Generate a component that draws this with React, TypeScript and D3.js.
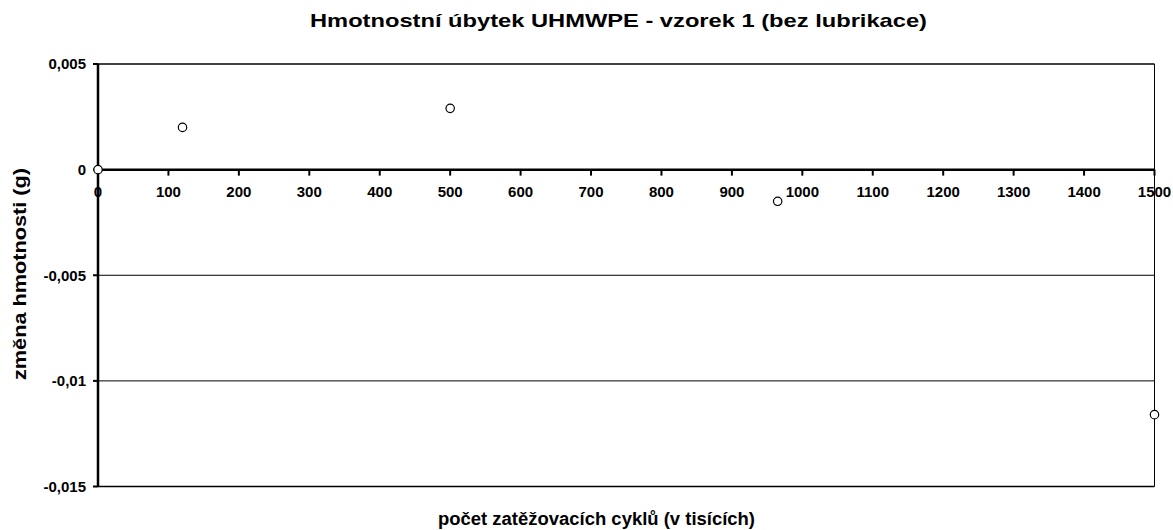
import React, { useEffect, useRef } from 'react';
import * as d3 from 'd3';

const cycles = [0, 120, 500, 965, 1500];
const massChange = [0, 0.002, 0.0029, -0.0015, -0.0116];
const xTicks = [0, 100, 200, 300, 400, 500, 600, 700, 800, 900, 1000, 1100, 1200, 1300, 1400, 1500];
const yTicks = [0.005, 0, -0.005, -0.01, -0.015];
const yTickLabels = ['0,005', '0', '-0,005', '-0,01', '-0,015'];

const W = 1173;
const H = 530;
const FONT = 'Arial, "Liberation Sans", sans-serif';

const App: React.FC = () => {
  const svgRef = useRef<SVGSVGElement>(null);

  useEffect(() => {
    if (!svgRef.current) return;
    const svg = d3.select(svgRef.current);
    svg.selectAll('*').remove();

    const left = 98, right = 1154.5, top = 64, bottom = 486.5;

    const x = d3.scaleLinear().domain([0, 1500]).range([left, right]);
    const y = d3.scaleLinear().domain([-0.015, 0.005]).range([bottom, top]);

    svg.append('rect').attr('width', W).attr('height', H).attr('fill', '#fff');

    // gridlines
    svg.selectAll('.grid')
      .data(yTicks.filter(v => v !== 0))
      .enter()
      .append('line')
      .attr('x1', left).attr('x2', right)
      .attr('y1', d => y(d)).attr('y2', d => y(d))
      .attr('stroke', '#000')
      .attr('stroke-width', d => (d === 0.005 || d === -0.015 ? 1.5 : 1));

    // right border
    svg.append('line')
      .attr('x1', right).attr('x2', right)
      .attr('y1', top).attr('y2', bottom)
      .attr('stroke', '#000').attr('stroke-width', 1);

    // y axis
    svg.append('line')
      .attr('x1', left).attr('x2', left)
      .attr('y1', top).attr('y2', bottom)
      .attr('stroke', '#000').attr('stroke-width', 2.5);

    svg.selectAll('.ytick')
      .data(yTicks)
      .enter()
      .append('line')
      .attr('x1', left - 5).attr('x2', left)
      .attr('y1', d => y(d)).attr('y2', d => y(d))
      .attr('stroke', '#000').attr('stroke-width', 2);

    svg.selectAll('.ylabel')
      .data(yTicks)
      .enter()
      .append('text')
      .attr('x', 86)
      .attr('y', d => y(d))
      .attr('dy', '0.35em')
      .attr('text-anchor', 'end')
      .style('font-family', FONT)
      .style('font-size', '15px')
      .style('font-weight', 'bold')
      .text((d, i) => yTickLabels[i]);

    // x axis at zero
    const y0 = y(0);
    svg.append('line')
      .attr('x1', left).attr('x2', right)
      .attr('y1', y0).attr('y2', y0)
      .attr('stroke', '#000').attr('stroke-width', 2.5);

    svg.selectAll('.xtick')
      .data(xTicks)
      .enter()
      .append('line')
      .attr('x1', d => x(d)).attr('x2', d => x(d))
      .attr('y1', y0).attr('y2', y0 + 6)
      .attr('stroke', '#000').attr('stroke-width', 2);

    svg.selectAll('.xlabel')
      .data(xTicks)
      .enter()
      .append('text')
      .attr('x', d => x(d))
      .attr('y', y0 + 27.5)
      .attr('text-anchor', 'middle')
      .style('font-family', FONT)
      .style('font-size', '15px')
      .style('font-weight', 'bold')
      .text(d => String(d));

    // points
    svg.selectAll('.pt')
      .data(cycles.map((c, i) => ({ c, v: massChange[i] })))
      .enter()
      .append('circle')
      .attr('cx', d => x(d.c))
      .attr('cy', d => y(d.v))
      .attr('r', 4.2)
      .attr('fill', '#fff')
      .attr('stroke', '#000')
      .attr('stroke-width', 1.2);

    // titles
    svg.append('text')
      .attr('x', 618.5).attr('y', 27)
      .attr('text-anchor', 'middle')
      .attr('textLength', 617)
      .attr('lengthAdjust', 'spacingAndGlyphs')
      .style('font-family', FONT)
      .style('font-size', '19px')
      .style('font-weight', 'bold')
      .text('Hmotnostní úbytek UHMWPE - vzorek 1 (bez lubrikace)');

    svg.append('text')
      .attr('x', 596.5).attr('y', 525)
      .attr('text-anchor', 'middle')
      .attr('textLength', 317)
      .attr('lengthAdjust', 'spacingAndGlyphs')
      .style('font-family', FONT)
      .style('font-size', '18px')
      .style('font-weight', 'bold')
      .text('počet zatěžovacích cyklů (v tisících)');

    svg.append('text')
      .attr('transform', 'translate(25.5, 274) rotate(-90)')
      .attr('text-anchor', 'middle')
      .attr('textLength', 212)
      .attr('lengthAdjust', 'spacingAndGlyphs')
      .style('font-family', FONT)
      .style('font-size', '19px')
      .style('font-weight', 'bold')
      .text('změna hmotnosti (g)');
  }, []);

  return (
    <svg
      ref={svgRef}
      width={W}
      height={H}
      style={{ position: 'absolute', left: 0, top: 0, display: 'block' }}
    />
  );
};

export default App;
